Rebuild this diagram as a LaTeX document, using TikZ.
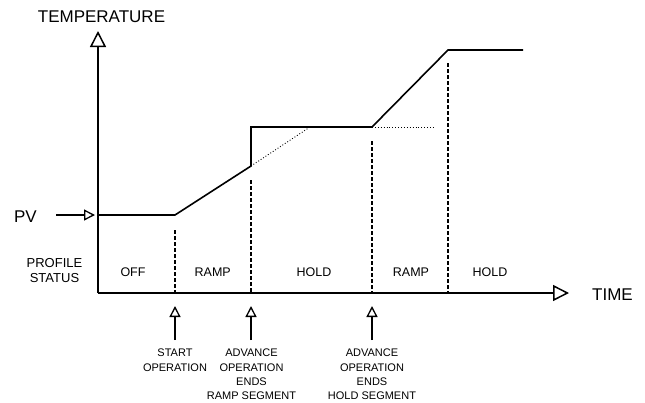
\documentclass[tikz,border=0pt]{standalone}
\usepackage{fontspec}
\setmainfont{Liberation Sans}
\usetikzlibrary{arrows.meta}
\begin{document}
\begin{tikzpicture}[x=1pt,y=-1pt,
  big/.style={font=\fontsize{17}{20}\selectfont, inner sep=0pt},
  stat/.style={font=\fontsize{12.5}{15}\selectfont, inner sep=0pt},
  prof/.style={font=\fontsize{13}{15}\selectfont, inner sep=0pt, align=center},
  small/.style={font=\fontsize{11}{14.2}\selectfont, inner sep=0pt, align=center, anchor=north},
  axisline/.style={line width=1.5pt, -{Triangle[open,length=16pt,width=16pt,line width=1.5pt]}},
  smallarrow/.style={line width=1.3pt, -{Triangle[open,length=11pt,width=11pt,line width=1.3pt]}},
  profile/.style={line width=1.6pt, line join=miter},
  marker/.style={line width=1.2pt, dash pattern=on 4pt off 2pt},
  extend/.style={line width=0.9pt, dotted},
]
\useasboundingbox (0,0) rectangle (645,402);
% coordinates
\coordinate (O) at (98,293);
\coordinate (Ytop) at (98,31);
\coordinate (Xend) at (569,293);
\coordinate (P0) at (98,215);
\coordinate (P1) at (175,215);
\coordinate (P2) at (251,166);
\coordinate (P3) at (251,127);
\coordinate (P4) at (372,127);
\coordinate (P5) at (448,50);
\coordinate (P6) at (523,50);
\coordinate (D1) at (310,127);
\coordinate (D2) at (433,127);
\coordinate (PVs) at (56,215);
\coordinate (PVe) at (95,215);
\coordinate (M1t) at (175,230);
\coordinate (M1b) at (175,293);
\coordinate (M2t) at (251,180);
\coordinate (M2b) at (251,293);
\coordinate (M3t) at (372,141);
\coordinate (M3b) at (372,293);
\coordinate (M4t) at (448,63);
\coordinate (M4b) at (448,293);
\coordinate (A1s) at (175,340);
\coordinate (A1e) at (175,306);
\coordinate (A2s) at (251,340);
\coordinate (A2e) at (251,306);
\coordinate (A3s) at (372,340);
\coordinate (A3e) at (372,306);
% axes
\draw[axisline] (O) -- (Ytop);
\draw[axisline] (O) -- (Xend);
% profile
\draw[profile] (P0) -- (P1) -- (P2) -- (P3) -- (P4) -- (P5) -- (P6);
\draw[extend] (P2) -- (D1);
\draw[extend] (P4) -- (D2);
% PV arrow
\draw[smallarrow] (PVs) -- (PVe);
% markers
\draw[marker] (M1t) -- (M1b);
\draw[marker] (M2t) -- (M2b);
\draw[marker] (M3t) -- (M3b);
\draw[marker] (M4t) -- (M4b);
% event arrows
\draw[smallarrow] (A1s) -- (A1e);
\draw[smallarrow] (A2s) -- (A2e);
\draw[smallarrow] (A3s) -- (A3e);
% labels
\node[big] (temp) at (101.5,16.5) {TEMPERATURE};
\node[big] (pv) at (25.5,216.5) {PV};
\node[big] (time) at (612.5,294.5) {TIME};
\node[prof] (ps) at (54.5,270.5) {PROFILE\\STATUS};
\node[stat] (s1) at (133,272) {OFF};
\node[stat] (s2) at (212.7,272) {RAMP};
\node[stat] (s3) at (314,272) {HOLD};
\node[stat] (s4) at (411,272) {RAMP};
\node[stat] (s5) at (490,272) {HOLD};
\node[small] (e1) at (175,349) {START\\OPERATION};
\node[small] (e2) at (251.5,349) {ADVANCE\\OPERATION\\ENDS\\RAMP SEGMENT};
\node[small] (e3) at (372,349) {ADVANCE\\OPERATION\\ENDS\\HOLD SEGMENT};
\end{tikzpicture}
\end{document}
